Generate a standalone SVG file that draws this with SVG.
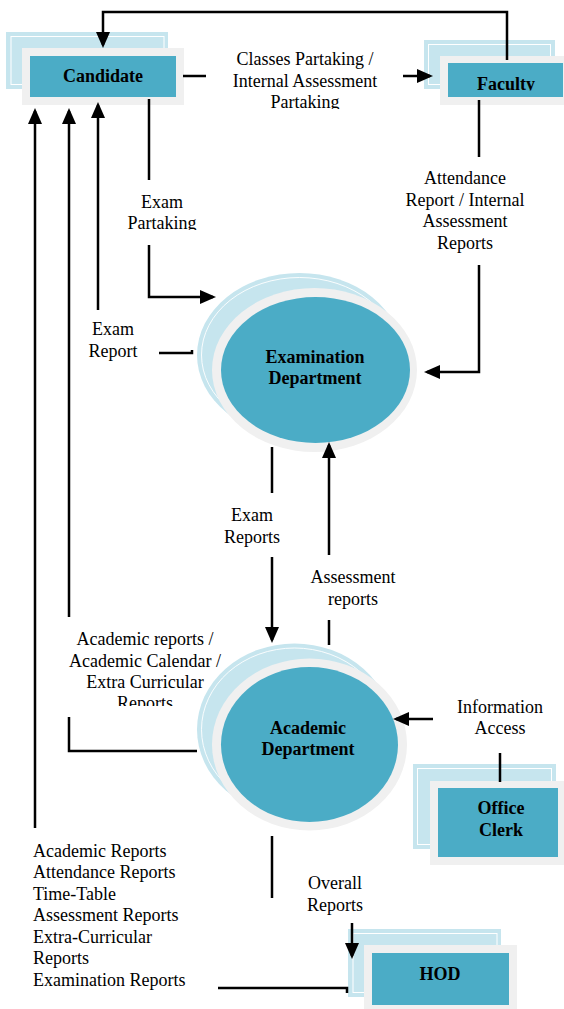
<svg xmlns="http://www.w3.org/2000/svg" width="564" height="1009" viewBox="0 0 564 1009">
<style>
.back{fill:#c6e5ee}
.inner{fill:none;stroke:#ffffff;stroke-width:1}
.frame{fill:#f0f0f0}
.core{fill:#4bacc6}
.nt{font-family:"Liberation Serif","Times New Roman",serif;font-size:18px;font-weight:bold;fill:#000;text-anchor:middle}
.lb{font-family:"Liberation Serif","Times New Roman",serif;font-size:18px;fill:#000;text-anchor:middle}
.ls{font-family:"Liberation Serif","Times New Roman",serif;font-size:18px;fill:#000}
.c{fill:none;stroke:#000;stroke-width:2.5}
.a{marker-end:url(#ah)}
</style>
<defs>
<marker id="ah" viewBox="0 0 16 14" refX="13" refY="7" markerWidth="16" markerHeight="14" markerUnits="userSpaceOnUse" orient="auto">
<path d="M0,0 L16,7 L0,14 z" fill="#000"/>
</marker>
<clipPath id="clipFac"><rect x="440" y="60" width="124" height="30.5"/></clipPath>
<clipPath id="clipP1"><rect x="200" y="40" width="210" height="69"/></clipPath>
<clipPath id="clipP2"><rect x="110" y="185" width="110" height="45"/></clipPath>
<clipPath id="clipAR"><rect x="40" y="620" width="220" height="86"/></clipPath>
</defs>

<g id="candidate">
<rect class="back" x="6" y="32" width="162" height="57"/>
<rect class="inner" x="11" y="36.5" width="153" height="48"/>
<rect class="frame" x="22" y="48" width="162" height="57"/>
<rect class="core" x="30" y="56" width="146" height="41"/>
<text class="nt" x="103" y="82">Candidate</text>
</g>

<g id="faculty">
<rect class="back" x="424" y="40" width="131" height="49"/>
<rect class="inner" x="428.5" y="44.5" width="122" height="40"/>
<rect class="frame" x="440" y="56" width="124" height="49"/>
<rect class="core" x="448" y="63" width="115" height="34"/>
<text class="nt" x="506" y="89.5" clip-path="url(#clipFac)">Faculty</text>
</g>

<g id="examination-department">
<ellipse class="back" cx="299.5" cy="355" rx="102.5" ry="82"/>
<ellipse class="inner" cx="299.5" cy="355" rx="98" ry="77.5" stroke-opacity="0.9"/>
<ellipse class="frame" cx="314.5" cy="370" rx="102.5" ry="82"/>
<ellipse class="core" cx="315.5" cy="370" rx="94.5" ry="73"/>
<text class="nt" x="315" y="363">Examination</text>
<text class="nt" x="315" y="384">Department</text>
</g>

<g id="academic-department">
<ellipse class="back" cx="294.5" cy="729.5" rx="97.5" ry="86"/>
<ellipse class="inner" cx="294.5" cy="729.5" rx="93" ry="81.5" stroke-opacity="0.9"/>
<ellipse class="frame" cx="309.5" cy="744.5" rx="97.5" ry="86"/>
<ellipse class="core" cx="309.5" cy="744.5" rx="88.5" ry="77.5"/>
<text class="nt" x="308" y="734">Academic</text>
<text class="nt" x="308" y="755">Department</text>
</g>

<g id="office-clerk">
<rect class="back" x="413" y="764" width="143" height="85"/>
<rect class="inner" x="417.5" y="768.5" width="134" height="76"/>
<rect class="frame" x="430" y="781" width="134" height="84"/>
<rect class="core" x="438" y="788" width="120" height="69"/>
<text class="nt" x="501" y="814">Office</text>
<text class="nt" x="501" y="836">Clerk</text>
</g>

<g id="hod">
<rect class="back" x="348" y="929" width="153" height="68"/>
<rect class="inner" x="353" y="933.5" width="144" height="59"/>
<rect class="frame" x="364" y="945" width="153" height="64"/>
<rect class="core" x="372" y="953" width="137" height="52"/>
<text class="nt" x="440" y="980">HOD</text>
</g>

<g id="connectors">
<path class="c a" d="M507,60 V12 H103 V45"/>
<path class="c" d="M183,76 H206"/>
<path class="c a" d="M403,76 H430"/>
<path class="c" d="M149,99 V180"/>
<path class="c a" d="M149,245 V297 H213"/>
<path class="c a" d="M98,310 V105"/>
<path class="c" d="M159,353 H192 V350"/>
<path class="c" d="M479,100 V157"/>
<path class="c a" d="M479,265 V372 H427"/>
<path class="c" d="M272,447 V493"/>
<path class="c a" d="M272,557 V640"/>
<path class="c" d="M329,645 V620"/>
<path class="c a" d="M329,555 V445"/>
<path class="c a" d="M69,617 V111"/>
<path class="c" d="M69,717 V751 H197"/>
<path class="c a" d="M35,828 V111"/>
<path class="c" d="M218,988 H347 V993"/>
<path class="c" d="M272,836 V898"/>
<path class="c a" d="M352,923 V956"/>
<path class="c a" d="M433,719 H396"/>
<path class="c" d="M500,753 V782"/>
</g>

<g id="labels">
<g clip-path="url(#clipP1)">
<text class="lb" x="305" y="65">Classes Partaking /</text>
<text class="lb" x="305" y="86.5">Internal Assessment</text>
<text class="lb" x="305" y="108">Partaking</text>
</g>
<g clip-path="url(#clipP2)">
<text class="lb" x="162" y="208">Exam</text>
<text class="lb" x="162" y="229">Partaking</text>
</g>
<text class="lb" x="113" y="335">Exam</text>
<text class="lb" x="113" y="357">Report</text>
<text class="lb" x="465" y="184">Attendance</text>
<text class="lb" x="465" y="206">Report / Internal</text>
<text class="lb" x="465" y="227">Assessment</text>
<text class="lb" x="465" y="249">Reports</text>
<text class="lb" x="252" y="521">Exam</text>
<text class="lb" x="252" y="543">Reports</text>
<text class="lb" x="353" y="583">Assessment</text>
<text class="lb" x="353" y="605">reports</text>
<g clip-path="url(#clipAR)">
<text class="lb" x="145" y="645">Academic reports /</text>
<text class="lb" x="145" y="667">Academic Calendar /</text>
<text class="lb" x="145" y="688">Extra Curricular</text>
<text class="lb" x="145" y="709">Reports</text>
</g>
<text class="lb" x="500" y="713">Information</text>
<text class="lb" x="500" y="734">Access</text>
<text class="lb" x="335" y="889">Overall</text>
<text class="lb" x="335" y="911">Reports</text>
<text class="ls" x="33" y="857">Academic Reports</text>
<text class="ls" x="33" y="878">Attendance Reports</text>
<text class="ls" x="33" y="900">Time-Table</text>
<text class="ls" x="33" y="921">Assessment Reports</text>
<text class="ls" x="33" y="943">Extra-Curricular</text>
<text class="ls" x="33" y="964">Reports</text>
<text class="ls" x="33" y="986">Examination Reports</text>
</g>
</svg>
